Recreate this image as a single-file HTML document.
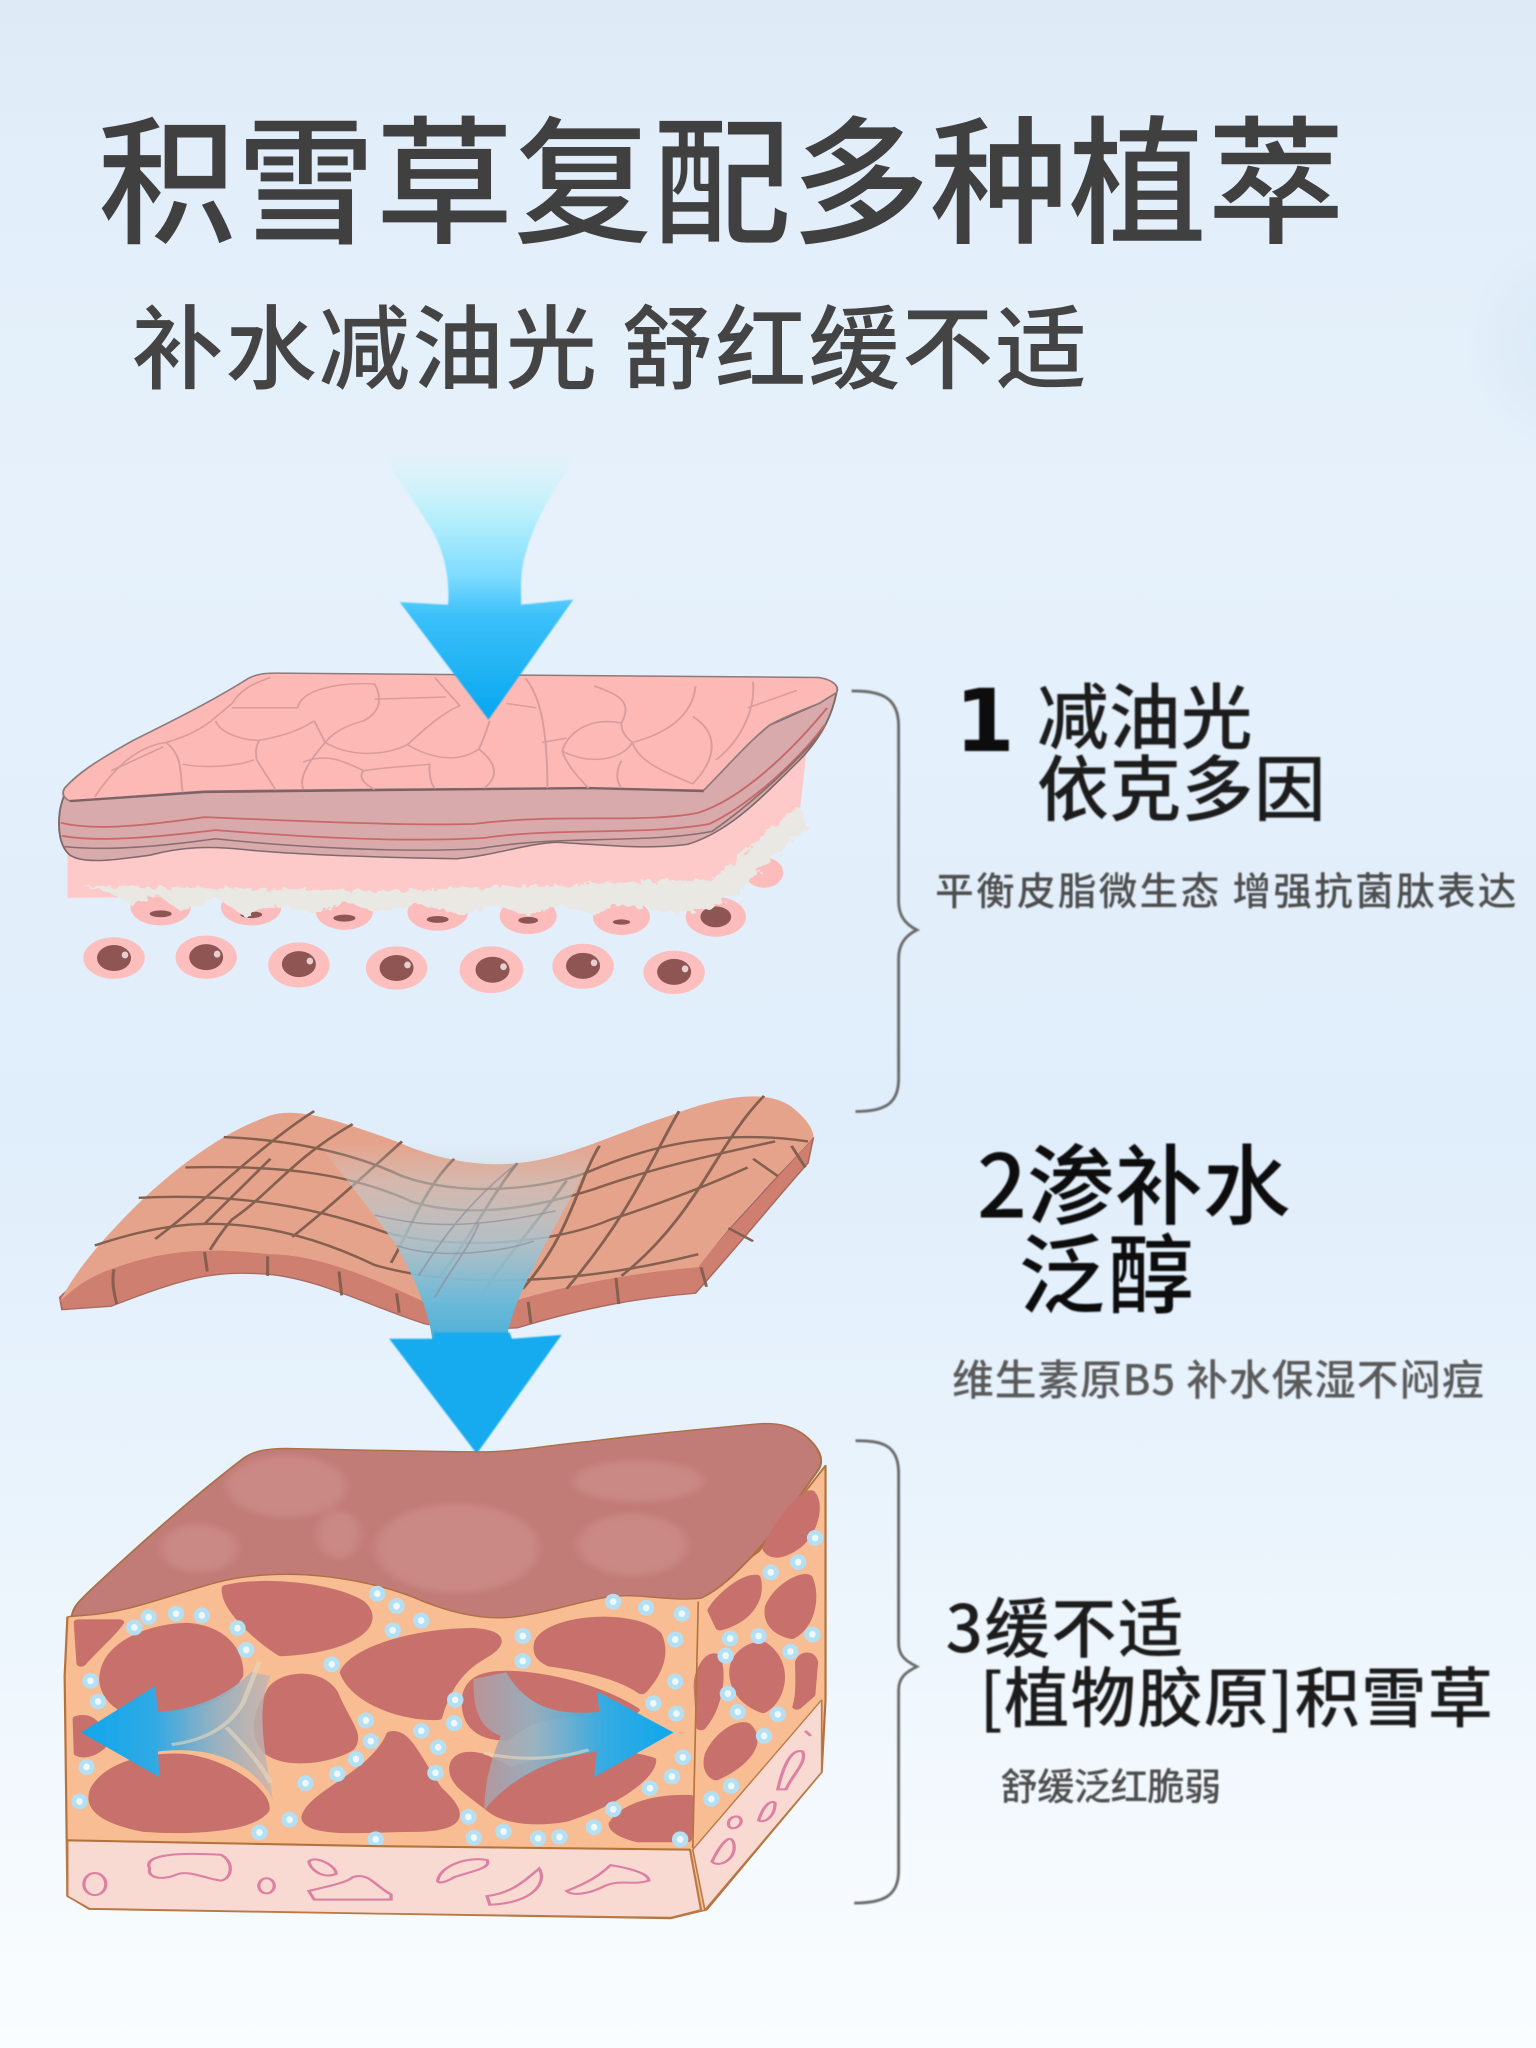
<!DOCTYPE html>
<html lang="zh"><head><meta charset="utf-8"><title>积雪草复配多种植萃</title>
<style>
html,body{margin:0;padding:0;background:#e3effb}
svg{display:block;width:1536px;height:2048px}
text{font-family:"Noto Sans CJK SC","Liberation Sans",sans-serif}
</style></head><body>
<svg xmlns="http://www.w3.org/2000/svg" viewBox="0 0 1176 1568" width="1536" height="2048">
<defs>
<linearGradient id="bg" x1="0" y1="0" x2="0" y2="1">
<stop offset="0" stop-color="#deebf7"/><stop offset=".08" stop-color="#e2eef9"/><stop offset=".25" stop-color="#e6f1fb"/><stop offset=".55" stop-color="#e0eefb"/><stop offset=".72" stop-color="#e9f3fc"/><stop offset="1" stop-color="#fafdff"/>
</linearGradient>
<radialGradient id="glow" cx=".5" cy=".5" r=".5"><stop offset="0" stop-color="#d3e6f6" stop-opacity=".6"/><stop offset="1" stop-color="#d3e6f6" stop-opacity="0"/></radialGradient>
<linearGradient id="a1" x1="0" y1="0" x2="0" y2="1">
<stop offset="0" stop-color="#d8f3f8" stop-opacity=".3"/><stop offset=".22" stop-color="#b8f0fb"/><stop offset=".45" stop-color="#7fdcff"/><stop offset=".6" stop-color="#3cc0f9"/><stop offset="1" stop-color="#06a6f0"/>
</linearGradient>
<linearGradient id="funnel" x1="0" y1="0" x2="0" y2="1">
<stop offset="0" stop-color="#c9cfd0" stop-opacity="0"/><stop offset=".2" stop-color="#c5cccd" stop-opacity=".5"/><stop offset=".5" stop-color="#a9c4cf" stop-opacity=".85"/><stop offset=".8" stop-color="#6db9d8"/><stop offset="1" stop-color="#4fb0d8"/>
</linearGradient>
<linearGradient id="al" x1="0" y1="0" x2="1" y2="0">
<stop offset="0" stop-color="#0fa8ec"/><stop offset=".38" stop-color="#2fa9e4"/><stop offset=".7" stop-color="#8fb0c4" stop-opacity=".92"/><stop offset="1" stop-color="#c9b4ae" stop-opacity=".8"/>
</linearGradient>
<linearGradient id="ar" x1="1" y1="0" x2="0" y2="0">
<stop offset="0" stop-color="#0fa8ec"/><stop offset=".35" stop-color="#35abe2"/><stop offset=".7" stop-color="#93b2c3" stop-opacity=".92"/><stop offset="1" stop-color="#b79a9f" stop-opacity=".85"/>
</linearGradient>
<filter id="s" x="-5%" y="-5%" width="110%" height="110%"><feGaussianBlur stdDeviation=".7"/></filter>
<filter id="s3" x="-20%" y="-20%" width="140%" height="140%"><feGaussianBlur stdDeviation="10"/></filter>
<filter id="rag" x="-5%" y="-10%" width="110%" height="120%"><feTurbulence type="fractalNoise" baseFrequency=".07" numOctaves="2" seed="3"/><feDisplacementMap in="SourceGraphic" scale="22"/></filter>
<g id="d"><ellipse rx="15" ry="23" fill="#b5dff2"/><ellipse rx="6" ry="10" fill="#eef9fd"/></g>
</defs>

<rect width="1176" height="1568" fill="url(#bg)"/>
<ellipse cx="1190" cy="265" rx="70" ry="85" fill="url(#glow)"/>

<!-- headings -->
<text x="75" y="178" font-size="106" fill="#404040" font-weight="500" textLength="955" lengthAdjust="spacing">积雪草复配多种植萃</text>
<text x="101" y="292" font-size="70" fill="#444" font-weight="500" textLength="731" lengthAdjust="spacing">补水减油光 舒红缓不适</text>

<!-- layer 1 + 2 in zoom coords -->
<g transform="translate(30.6 505.4) scale(.42 .332)" filter="url(#s)">
  <g fill="#fcbcbb">
    <ellipse cx="220" cy="570" rx="55" ry="42"/><ellipse cx="385" cy="570" rx="55" ry="42"/><ellipse cx="555" cy="580" rx="52" ry="42"/><ellipse cx="725" cy="582" rx="55" ry="42"/><ellipse cx="890" cy="590" rx="52" ry="42"/><ellipse cx="1060" cy="592" rx="52" ry="42"/><ellipse cx="1232" cy="592" rx="55" ry="46"/><ellipse cx="1320" cy="490" rx="35" ry="35"/>
  </g>
  <g fill="#8d5452">
    <ellipse cx="220" cy="585" rx="20" ry="8"/><ellipse cx="385" cy="587" rx="20" ry="8"/><ellipse cx="555" cy="595" rx="20" ry="8"/><ellipse cx="725" cy="598" rx="20" ry="8"/><ellipse cx="890" cy="600" rx="18" ry="8"/><ellipse cx="1060" cy="604" rx="16" ry="6"/><ellipse cx="1232" cy="592" rx="28" ry="24"/>
  </g>
  <path d="M50,420 L1230,390 L1400,180 L1385,350 L1240,520 L1240,540 L50,548Z" fill="#fdc9c9"/>
  <path d="M80,522 L640,532 L1225,505 L1385,335 L1400,385 L1340,450 L1270,540 L1220,575 L1150,585 L1110,572 L1050,565 L1010,588 L950,565 L880,588 L830,562 L770,588 L690,562 L610,582 L560,557 L500,582 L440,567 L370,588 L320,547 L260,582 L210,537 L170,567 L130,537Z" fill="#e9e8e3" filter="url(#rag)"/>
  <g fill="#fcbfbe">
    <ellipse cx="135" cy="687" rx="56" ry="48"/><ellipse cx="303" cy="685" rx="56" ry="50"/><ellipse cx="472" cy="703" rx="56" ry="52"/><ellipse cx="650" cy="710" rx="56" ry="50"/><ellipse cx="823" cy="714" rx="58" ry="54"/><ellipse cx="990" cy="706" rx="56" ry="52"/><ellipse cx="1156" cy="720" rx="56" ry="50"/>
  </g>
  <g fill="#8e5553">
    <ellipse cx="135" cy="687" rx="31" ry="30"/><ellipse cx="303" cy="685" rx="31" ry="30"/><ellipse cx="472" cy="701" rx="31" ry="30"/><ellipse cx="650" cy="710" rx="31" ry="30"/><ellipse cx="825" cy="714" rx="31" ry="30"/><ellipse cx="990" cy="705" rx="31" ry="30"/><ellipse cx="1156" cy="719" rx="31" ry="30"/>
  </g>
  <g fill="#e8cfcf">
    <ellipse cx="155" cy="680" rx="6" ry="8"/><ellipse cx="323" cy="678" rx="6" ry="8"/><ellipse cx="492" cy="694" rx="6" ry="8"/><ellipse cx="670" cy="703" rx="6" ry="8"/><ellipse cx="845" cy="707" rx="6" ry="8"/><ellipse cx="1010" cy="698" rx="6" ry="8"/><ellipse cx="1176" cy="712" rx="6" ry="8"/>
  </g>
  <!-- layered band -->
  <path d="M50,290 C42,320 38,330 36,350 C32,390 36,430 55,450 C80,470 130,462 200,450 C260,430 310,428 380,438 C480,450 620,455 760,458 C830,450 880,425 940,420 C1020,425 1100,438 1180,425 C1260,395 1320,310 1385,230 C1430,170 1445,120 1452,75 L1420,100 L1330,150 L1210,280Z" fill="#d9aaab" stroke="#7f6a6b" stroke-width="3.5" stroke-linejoin="round"/>
  <g fill="none" stroke="#c8686a" stroke-width="4">
    <path d="M38,375 C100,395 200,380 300,362 C450,370 650,382 790,378 C950,352 1100,378 1200,352 C1280,320 1370,210 1435,110"/>
    <path d="M40,405 C100,420 200,410 320,392 C450,405 650,422 810,410 C950,385 1100,405 1220,378 C1300,330 1390,220 1430,150"/>
  </g>
  <path d="M45,430 C120,440 220,430 320,412 C450,430 650,445 800,435 C950,402 1100,425 1225,395 C1310,320 1390,220 1425,165" fill="none" stroke="#8a6d6e" stroke-width="3.5"/>
  <!-- top surface -->
  <path d="M55,325 C45,320 38,310 45,295 C70,260 100,235 170,185 C250,135 320,90 380,42 C395,32 410,30 430,30 L1420,40 C1445,45 1458,60 1452,75 L1420,100 C1380,120 1350,135 1330,150 C1290,190 1250,250 1210,300 L1000,295 L600,298 L300,302Z" fill="#fdb9b5" stroke="#8f7a7a" stroke-width="3.5" stroke-linejoin="round"/>
  <path d="M55,325 L300,304 L600,300 L1000,295 L1210,302" fill="none" stroke="#7d6465" stroke-width="5.5"/>
  <g fill="none" stroke="#d99c9d" stroke-width="3.5">
    <path d="M100,315 C130,260 170,200 230,190 C300,165 320,130 350,100 C370,60 400,50 420,40"/>
    <path d="M350,110 L470,110 M320,140 C330,170 370,185 400,185 C440,175 470,165 500,140 M470,110 C475,70 540,50 610,55 C625,90 620,120 590,140 C560,150 535,165 520,190 C560,220 620,225 670,195 C700,160 730,125 765,105 C745,75 725,50 720,40 M610,90 L740,85"/>
    <path d="M230,190 C260,220 255,255 260,305 M130,255 L225,200 M260,240 C300,250 360,245 390,230 M400,185 C390,205 395,225 395,230 C410,260 420,280 430,300 M520,190 C495,225 470,270 480,298 M480,235 C520,215 550,230 590,255 M590,255 C580,270 590,285 610,298 M670,195 C710,225 760,240 800,205 C810,180 815,155 820,140 M800,205 C835,240 835,270 810,295 M590,255 C640,245 680,245 710,240 C710,260 710,280 720,296 M500,140 L520,190"/>
    <path d="M885,42 C910,80 925,150 925,295 M850,100 L905,110 M915,190 L960,180 M1010,60 C1060,80 1080,100 1060,145 C1000,130 960,170 952,210 C1000,242 1060,232 1080,190 C1060,170 1060,155 1060,145 M1080,190 C1140,170 1190,130 1195,60 M1190,130 C1240,170 1232,230 1190,285 C1130,255 1090,230 1080,190 M1300,50 C1305,130 1265,200 1232,230 M952,210 C960,240 980,270 1000,295 M1060,232 C1050,255 1050,280 1060,295 M1290,110 L1380,70"/>
  </g>

  <!-- layer 2 -->
  <path d="M36,1470 C100,1380 300,1340 420,1350 C540,1370 640,1430 700,1470 L860,1470 C960,1430 1100,1390 1200,1390 L1410,1100 L1400,1160 C1350,1230 1280,1340 1195,1460 C1100,1470 1000,1490 870,1540 C800,1545 740,1540 700,1530 C600,1490 500,1420 400,1415 C320,1410 270,1420 130,1490 L40,1498Z" fill="#cf7f70" stroke="#a8695e" stroke-width="3"/>
  <path d="M36,1480 C60,1420 100,1350 190,1240 C250,1170 330,1090 420,1050 C470,1030 540,1060 650,1110 C720,1150 800,1170 870,1160 C960,1150 1050,1090 1150,1050 C1230,1010 1320,985 1370,1030 C1395,1055 1410,1080 1410,1100 C1370,1160 1290,1250 1200,1400 C1100,1410 960,1440 860,1480 L700,1480 C600,1420 500,1370 420,1370 C340,1360 250,1350 140,1400 C90,1420 60,1450 36,1480Z" fill="#e6a38c"/>
  <g fill="none" stroke="#85604f" stroke-width="5.5">
    <path d="M100,1350 C170,1320 240,1300 310,1300 C420,1300 520,1340 610,1395 C760,1450 980,1440 1200,1370"/>
    <path d="M180,1240 C330,1230 480,1250 630,1320 C750,1360 930,1350 1040,1290 C1140,1250 1220,1210 1290,1170"/>
    <path d="M265,1170 C430,1165 560,1180 680,1250 C790,1290 910,1260 1010,1220 C1120,1170 1230,1140 1340,1110"/>
    <path d="M335,1100 C440,1105 560,1130 660,1190 C770,1240 920,1220 1000,1180 C1110,1120 1240,1080 1400,1110"/>
    <path d="M500,1040 C400,1120 300,1250 210,1335 M570,1070 C460,1150 420,1230 350,1290 C330,1320 320,1340 310,1360 M660,1110 C590,1190 520,1270 460,1330 M755,1150 C700,1220 680,1300 640,1390 M870,1160 C820,1240 790,1320 730,1420 M960,1200 C900,1310 820,1420 800,1480 M1020,1120 C980,1200 970,1320 880,1450 M1165,1040 C1110,1160 1080,1270 960,1450 M1320,1005 C1230,1120 1200,1280 1060,1420 M420,1150 C380,1200 340,1250 300,1300"/>
    <path d="M135,1405 C130,1430 135,1460 140,1485 M300,1365 L305,1410 M415,1375 L415,1420 M545,1410 L550,1465 M650,1460 L655,1505 M890,1480 L895,1530 M1050,1425 L1055,1485 M1205,1400 L1215,1445 M1255,1310 L1300,1340 M1300,1150 L1345,1190 M1370,1120 L1395,1170"/>
  </g>
  <!-- funnel -->
  <path d="M510,1120 L1020,1110 C980,1220 930,1320 900,1400 C880,1450 860,1500 850,1568 L715,1568 C710,1500 680,1420 650,1350 C610,1280 560,1200 510,1120Z" fill="url(#funnel)"/>
  <path d="M610,1280 C680,1300 760,1320 940,1270 M650,1350 C720,1380 830,1370 900,1340 M690,1420 C730,1340 780,1250 870,1160 M800,1300 C780,1360 740,1420 720,1470" fill="none" stroke="#8e8e9c" stroke-width="3.5" opacity=".7"/>
</g>

<!-- top arrow -->
<path d="M296,350 L440,350 C425,375 410,395 402,425 C398,440 399,450 399,463 L439,459 L374,551 L306,461 L343,463 C345,440 338,415 327,400 C315,380 305,370 296,350Z" fill="url(#a1)" filter="url(#s)"/>

<!-- arrow 2 -->
<path d="M298,1025 L332,1025 L332,1020 L390,1020 L392,1025 L430,1022 L365,1113Z" fill="#19abef" filter="url(#s)"/>

<!-- cube -->
<g transform="translate(30.6 1072) scale(.42 .2637)" filter="url(#s)">
  <path d="M50,630 L350,500 L1100,500 L1205,560 L1310,440 L1432,190 L1432,870 L1425,1080 L1215,1480 L1150,1505 L90,1478 L50,1440 L45,800Z" fill="#f8bd92" stroke="#b4733c" stroke-width="4" stroke-linejoin="round"/>
  <path d="M50,1278 L620,1295 L1185,1305 L1205,1480 L1150,1502 L600,1490 L90,1476 L50,1440Z" fill="#f9dad2" stroke="#ba7a48" stroke-width="4"/>
  <path d="M1190,1305 L1425,870 L1425,1080 L1212,1480 Z" fill="#f9dad2" stroke="#ba7a48" stroke-width="3"/>
  <!-- top -->
  <path d="M58,628 C60,600 70,585 100,540 C180,420 280,280 370,170 C390,145 420,140 450,140 C600,145 720,150 800,150 C870,150 930,130 1000,120 C1100,100 1200,85 1300,70 C1350,62 1380,80 1400,110 C1420,140 1430,170 1420,200 C1380,290 1340,380 1300,450 C1270,500 1240,550 1205,575 C1150,585 1090,560 1040,570 C980,585 920,620 860,630 C800,640 740,610 700,585 C650,550 590,525 520,512 C450,500 380,505 320,530 C240,565 170,610 100,622Z" fill="#c17b77" stroke="#ad6f45" stroke-width="4"/>
  <g fill="#cf8f8a" opacity=".7" filter="url(#s3)">
    <ellipse cx="450" cy="250" rx="110" ry="90"/><ellipse cx="760" cy="430" rx="150" ry="130"/><ellipse cx="1090" cy="235" rx="120" ry="60"/><ellipse cx="1080" cy="420" rx="100" ry="90"/><ellipse cx="545" cy="390" rx="40" ry="70"/><ellipse cx="290" cy="430" rx="70" ry="70"/>
  </g>
  <!-- blobs -->
  <g fill="#c76f6c" stroke="#c76f6c" stroke-width="17" stroke-linejoin="round">
    <path d="M70,645 L145,645 C130,680 100,720 75,765Z"/>
    <path d="M118,790 C128,700 210,655 270,655 C340,665 365,740 362,800 C340,860 290,895 215,900 L150,895 C125,870 112,830 118,790Z"/>
    <path d="M340,545 C400,520 530,535 585,590 C625,650 570,725 440,735 C395,690 335,600 340,545Z"/>
    <path d="M420,850 C430,800 505,775 535,850 C555,930 585,970 565,1010 C530,1045 450,1065 415,1020 C385,960 400,900 420,850Z"/>
    <path d="M555,790 C575,720 690,670 790,670 C845,675 845,710 805,745 C755,790 735,860 725,920 C670,925 575,880 555,790Z"/>
    <path d="M910,700 C935,625 1085,615 1125,680 C1145,750 1115,815 1097,845 C1060,805 1000,780 930,765 C910,750 905,730 910,700Z"/>
    <path d="M778,860 C785,800 820,790 870,795 C950,805 1030,845 1085,900 L1030,915 C920,900 880,940 850,980 C800,980 773,940 778,860Z"/>
    <path d="M755,1060 C760,1025 790,1020 820,1045 L860,1075 C930,1035 1030,1005 1115,1045 C1115,1090 1055,1165 960,1215 C890,1235 840,1215 820,1185 C780,1135 750,1110 755,1060Z"/>
    <path d="M485,1210 C495,1140 610,1085 640,970 C668,960 690,1050 725,1130 C785,1215 755,1245 680,1245 C600,1245 485,1265 485,1210Z"/>
    <path d="M100,1130 C125,1055 200,1030 260,1035 C330,1045 415,1130 410,1190 C385,1245 280,1255 190,1245 C125,1225 85,1190 100,1130Z"/>
    <path d="M68,925 C90,915 105,935 115,1000 C100,1025 80,1035 70,1025Z"/>
    <path d="M1045,1230 C1065,1175 1130,1150 1185,1155 L1180,1275 L1090,1275 C1065,1265 1045,1250 1045,1230Z"/>
    <path d="M1225,610 C1240,570 1280,515 1305,515 C1315,570 1295,635 1240,660 Z"/>
    <path d="M1325,430 C1345,360 1380,285 1405,270 C1425,310 1405,400 1375,428 C1350,455 1332,455 1325,430Z"/>
    <path d="M1330,600 C1345,540 1390,505 1400,515 C1415,570 1405,655 1370,685 C1345,675 1325,650 1330,600Z"/>
    <path d="M1265,790 C1265,735 1300,705 1318,710 C1365,760 1355,865 1318,900 C1285,880 1265,840 1265,790Z"/>
    <path d="M1200,830 C1200,785 1220,735 1232,745 C1245,800 1235,895 1205,950Z"/>
    <path d="M1385,760 C1392,735 1405,735 1410,760 L1405,855 L1380,890 C1388,850 1385,800 1385,760Z"/>
    <path d="M1220,1030 C1235,975 1270,935 1288,945 C1315,985 1295,1050 1232,1095 C1220,1085 1215,1060 1220,1030Z"/>
  </g>
  <!-- dots -->
  <g>
    <use href="#d" x="172" y="660"/><use href="#d" x="198" y="630"/><use href="#d" x="248" y="620"/><use href="#d" x="295" y="625"/><use href="#d" x="360" y="662"/><use href="#d" x="376" y="725"/><use href="#d" x="92" y="815"/><use href="#d" x="106" y="875"/><use href="#d" x="85" y="1065"/><use href="#d" x="72" y="1165"/>
    <use href="#d" x="400" y="1255"/><use href="#d" x="455" y="1218"/><use href="#d" x="484" y="1112"/><use href="#d" x="542" y="1085"/><use href="#d" x="576" y="1042"/><use href="#d" x="603" y="990"/><use href="#d" x="594" y="930"/><use href="#d" x="532" y="767"/><use href="#d" x="612" y="1275"/>
    <use href="#d" x="615" y="562"/><use href="#d" x="650" y="598"/><use href="#d" x="695" y="640"/><use href="#d" x="643" y="668"/><use href="#d" x="880" y="685"/><use href="#d" x="880" y="757"/><use href="#d" x="757" y="870"/><use href="#d" x="755" y="938"/><use href="#d" x="695" y="960"/><use href="#d" x="726" y="1008"/><use href="#d" x="721" y="1082"/>
    <use href="#d" x="781" y="1210"/><use href="#d" x="791" y="1270"/><use href="#d" x="845" y="1252"/><use href="#d" x="908" y="1272"/><use href="#d" x="947" y="1268"/><use href="#d" x="1010" y="1240"/><use href="#d" x="1045" y="1188"/><use href="#d" x="1112" y="1127"/><use href="#d" x="1152" y="1093"/><use href="#d" x="1172" y="1037"/><use href="#d" x="1167" y="1275"/>
    <use href="#d" x="1045" y="585"/><use href="#d" x="1105" y="603"/><use href="#d" x="1170" y="620"/><use href="#d" x="1158" y="695"/><use href="#d" x="1158" y="817"/><use href="#d" x="1118" y="880"/><use href="#d" x="1160" y="910"/>
    <use href="#d" x="1413" y="400"/><use href="#d" x="1382" y="470"/><use href="#d" x="1332" y="500"/><use href="#d" x="1258" y="692"/><use href="#d" x="1310" y="685"/><use href="#d" x="1408" y="680"/><use href="#d" x="1368" y="730"/><use href="#d" x="1250" y="742"/><use href="#d" x="1254" y="852"/><use href="#d" x="1272" y="905"/><use href="#d" x="1345" y="912"/><use href="#d" x="1320" y="975"/><use href="#d" x="1260" y="1120"/><use href="#d" x="1224" y="1158"/>
  </g>
  <!-- pink squiggles -->
  <g fill="none" stroke="#dc80a4" stroke-width="6">
    <ellipse cx="100" cy="1405" rx="20" ry="32"/><ellipse cx="413" cy="1410" rx="14" ry="22"/>
    <path d="M200,1360 C190,1330 220,1310 330,1320 C355,1340 350,1390 330,1395 C300,1390 270,1360 245,1380 C220,1395 195,1385 200,1360Z"/>
    <path d="M490,1340 C500,1320 540,1350 540,1375 C520,1390 495,1370 490,1340Z M490,1425 C530,1410 560,1400 570,1385 C600,1370 610,1410 640,1435 L640,1450 L500,1450 Z"/>
    <path d="M725,1395 C730,1350 780,1325 815,1335 C825,1360 780,1370 755,1385 C740,1400 725,1405 725,1395Z M815,1440 C860,1430 880,1400 910,1360 C925,1400 900,1460 820,1465Z"/>
    <path d="M960,1425 C1000,1400 1020,1380 1040,1350 C1060,1355 1110,1370 1110,1395 C1080,1410 1060,1390 1030,1410 C1000,1435 970,1440 960,1425Z"/>
    <path d="M1225,1340 C1240,1290 1260,1250 1265,1290 C1270,1330 1240,1360 1225,1340Z M1255,1230 C1255,1205 1280,1200 1278,1225 C1275,1245 1255,1250 1255,1230Z M1310,1220 C1320,1170 1335,1160 1340,1170 C1340,1210 1320,1230 1310,1220Z M1345,1130 C1355,1060 1370,1010 1390,1020 C1400,1050 1370,1090 1360,1130 Z M1395,960 L1405,975"/>
  </g>
  <!-- interior lines -->
  <path d="M1200,585 L1190,1300" stroke="#b4733c" stroke-width="3" fill="none"/>
  <path d="M50,1278 L620,1295 L1185,1305" stroke="#b4733c" stroke-width="6" fill="none"/>
  <!-- side arrows -->
  <path d="M75,965 L210,830 L215,905 C280,900 340,860 385,790 L420,800 C400,880 400,950 425,1160 C390,1060 320,1000 215,1020 L218,1095Z" fill="url(#al)"/>
  <path d="M1155,965 L1015,845 L1020,905 C950,915 890,900 850,790 L790,810 C790,900 800,950 840,975 C820,1050 810,1120 810,1190 C850,1110 920,1040 1015,1020 L1010,1095Z" fill="url(#ar)"/>
  <path d="M240,1000 C290,990 340,960 370,880 L400,760 M340,950 C370,1000 400,1050 420,1110 M810,1025 C880,1050 950,1040 1000,1015" fill="none" stroke="#e7d9bf" stroke-width="9" opacity=".6"/>
</g>

<!-- braces -->
<g fill="none" stroke="#6b6b6b" stroke-width="2.2" filter="url(#s)">
  <path d="M652,529 C672,529 688,532 688,556 L688,690 C688,702 694,708 702,712 C694,716 688,722 688,734 L688,826 C688,846 676,851 655,851"/>
  <path d="M655,1103 C675,1103 688,1106 688,1128 L688,1258 C688,1268 694,1272 702,1276 C694,1280 688,1284 688,1294 L688,1432 C688,1452 676,1457 654,1457"/>
</g>

<!-- labels -->
<g filter="url(#s)">
<text x="731" y="575" font-size="66" fill="#111" font-weight="700" style="font-family:'DejaVu Sans',sans-serif">1</text>
<text x="794" y="569" font-size="55" fill="#1c1c1c" font-weight="500" textLength="165">减油光</text>
<text x="794" y="624" font-size="55" fill="#1c1c1c" font-weight="500" textLength="221">依克多因</text>
<text x="716" y="693" font-size="29.5" fill="#4d4d4d" font-weight="500" textLength="445">平衡皮脂微生态 增强抗菌肽表达</text>
<text x="748" y="932" font-size="67" fill="#111" font-weight="500" textLength="240">2渗补水</text>
<text x="780" y="1000" font-size="66" fill="#111" font-weight="500" textLength="134">泛醇</text>
<text x="729" y="1068" font-size="32" fill="#5a5a5a" font-weight="500" textLength="407">维生素原B5 补水保湿不闷痘</text>
<text x="724" y="1265" font-size="50" fill="#1c1c1c" font-weight="500" textLength="182">3缓不适</text>
<text x="750" y="1318" font-size="50" fill="#1c1c1c" font-weight="500" textLength="393">[植物胶原]积雪草</text>
<text x="766" y="1378" font-size="28.5" fill="#4d4d4d" font-weight="500" textLength="169">舒缓泛红脆弱</text>
</g>
</svg>
</body></html>
